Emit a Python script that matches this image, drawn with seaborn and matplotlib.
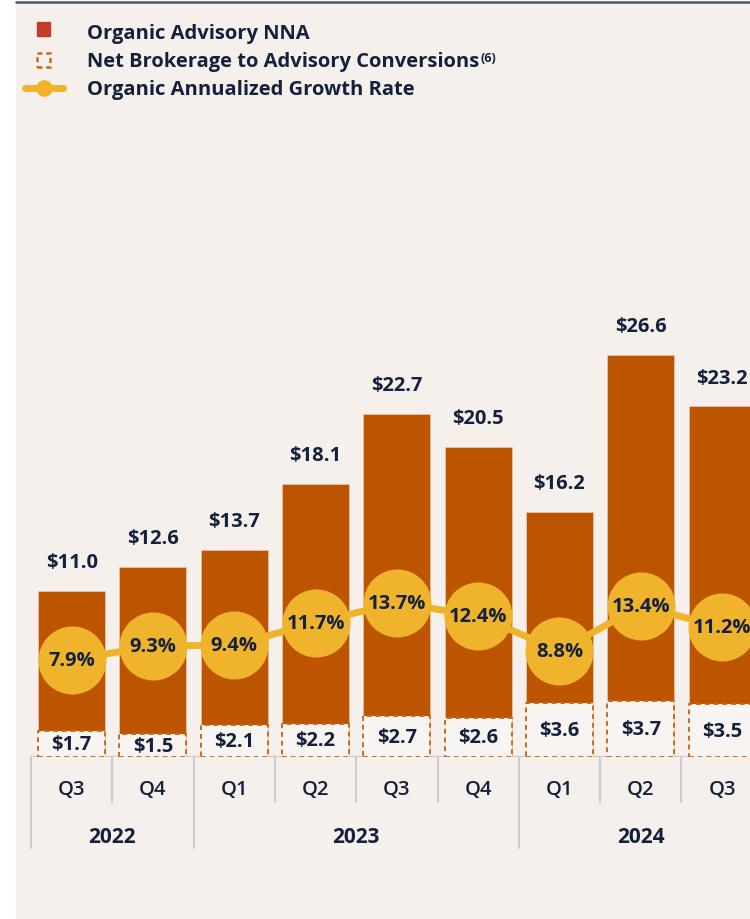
import numpy as np
import pandas as pd
import seaborn as sns
import matplotlib.pyplot as plt
from matplotlib.patches import Rectangle
from matplotlib.lines import Line2D

# Данные (млрд $)
quarters = ['Q3', 'Q4', 'Q1', 'Q2', 'Q3', 'Q4', 'Q1', 'Q2', 'Q3']
years = ['2022', '2022', '2023', '2023', '2023', '2023', '2024', '2024', '2024']
organic_nna = [11.0, 12.6, 13.7, 18.1, 22.7, 20.5, 16.2, 26.6, 23.2]
conversions = [1.7, 1.5, 2.1, 2.2, 2.7, 2.6, 3.6, 3.7, 3.5]
growth_rate = [7.9, 9.3, 9.4, 11.7, 13.7, 12.4, 8.8, 13.4, 11.2]

df = pd.DataFrame({
    'period': [f'{q} {y}' for q, y in zip(quarters, years)],
    'nna': organic_nna,
    'conv': conversions,
    'growth': growth_rate,
})

BG = '#f5f0ec'
ORANGE = '#bd5500'
DASH = '#cc6a1c'
GOLD = '#f0b32c'
NAVY = '#14213d'
GRID = '#cdcdcd'

sns.set_style('white')
plt.rcParams['font.family'] = ['Open Sans', 'DejaVu Sans']

W, H = 750, 920
fig = plt.figure(figsize=(7.5, 9.2), dpi=100)
fig.patch.set_facecolor('white')
fig.patches.append(Rectangle((16 / W, 0), 1 - 16 / W, 1 - 3 / H, transform=fig.transFigure,
                             color=BG, zorder=-10))
fig.lines.append(Line2D([16 / W, 1], [1 - 2.5 / H] * 2, transform=fig.transFigure,
                        color='#4b5672', lw=1.8))

# Основная ось
ax = fig.add_axes([31 / W, 162 / H, 719 / W, 638 / H])
ax.set_facecolor('none')

sns.barplot(data=df, x='period', y='nna', color=ORANGE, saturation=1, width=0.825,
            errorbar=None, edgecolor='#e6c3a5', linewidth=0.6, ax=ax, zorder=2)
sns.barplot(data=df, x='period', y='conv', color='#f8f4f1', saturation=1, width=0.825,
            errorbar=None, edgecolor=DASH, linewidth=1.4, linestyle=(0, (2.5, 2)),
            ax=ax, zorder=3)

ax.set_xlim(-0.5, -0.5 + 719 / 81.3)
ax.set_ylim(0, 638 / 15.11)
for s in ax.spines.values():
    s.set_visible(False)
ax.set_xticks([])
ax.set_yticks([])
ax.set_xlabel('')
ax.set_ylabel('')
ax.axhline(0, color=GRID, lw=1.6, zorder=1)

# Подписи значений
for i, (v, c) in enumerate(zip(organic_nna, conversions)):
    ax.annotate(f'${v:.1f}', (i, v), xytext=(0, 20.8), textcoords='offset points',
                ha='center', va='center', fontsize=14.5, fontweight='bold', color=NAVY)
    ax.text(i, c / 2, f'${c:.1f}', ha='center', va='center', fontsize=14.5,
            fontweight='bold', color=NAVY, zorder=5)

# Разделители и подписи оси X
trans = ax.get_xaxis_transform()
year_edges = [i - 0.5 for i in range(len(years)) if i == 0 or years[i] != years[i - 1]]
for i in range(len(quarters)):
    b = i - 0.5
    low = -0.143 if b in year_edges else -0.0705
    ax.plot([b, b], [0, low], transform=trans, clip_on=False, color=GRID, lw=1.5)
for i, q in enumerate(quarters):
    ax.text(i, -0.05, q, transform=trans, ha='center', va='center', fontsize=14.5,
            fontweight='semibold', color=NAVY)
for y in sorted(set(years)):
    idx = [i for i, yy in enumerate(years) if yy == y]
    ax.text(np.mean(idx), -0.124, y, transform=trans, ha='center', va='center',
            fontsize=15, fontweight='bold', color=NAVY)

# Темп роста на второй оси
ax2 = ax.twinx()
ax2.set_ylim(-2.0, 63.0)
sns.lineplot(x=np.arange(len(growth_rate)), y=growth_rate, ax=ax2, color=GOLD, linewidth=5,
             marker='o', markersize=49, markeredgewidth=0)
for i, g in enumerate(growth_rate):
    ax2.text(i, g, f'{g}%', ha='center', va='center', fontsize=14.5, fontweight='bold',
             color=NAVY)
for s in ax2.spines.values():
    s.set_visible(False)
ax2.set_yticks([])
ax2.set_ylabel('')
ax.set_xlim(-0.5, -0.5 + 719 / 81.3)

# Легенда
fig.patches.append(Rectangle((37 / W, 1 - 37 / H), 13 / W, 14 / H, transform=fig.transFigure,
                             color='#c13c2a'))
fig.patches.append(Rectangle((37 / W, 1 - 68 / H), 13 / W, 14 / H, transform=fig.transFigure,
                             facecolor='none', edgecolor=DASH, lw=1.8, linestyle=(0, (2, 1.5))))
fig.lines.append(Line2D([25 / W, 63 / W], [1 - 89 / H] * 2, transform=fig.transFigure,
                        color=GOLD, lw=5))
fig.lines.append(Line2D([44 / W], [1 - 89 / H], transform=fig.transFigure, color=GOLD,
                        marker='o', markersize=12, markeredgewidth=0))

labels = ['Organic Advisory NNA', 'Net Brokerage to Advisory Conversions',
          'Organic Annualized Growth Rate']
rows = [34, 62, 90]
texts = []
for lab, r in zip(labels, rows):
    texts.append(fig.text(87 / W, 1 - r / H, lab, ha='left', va='center', fontsize=14.5,
                          fontweight='bold', color=NAVY))

fig.canvas.draw()
ext = texts[1].get_window_extent()
fig.text((ext.x1 + 1.5) / W, ext.y1 / H, '(6)', ha='left', va='top', fontsize=9,
         fontweight='bold', color=NAVY)

fig.savefig('out.png', dpi=100)
